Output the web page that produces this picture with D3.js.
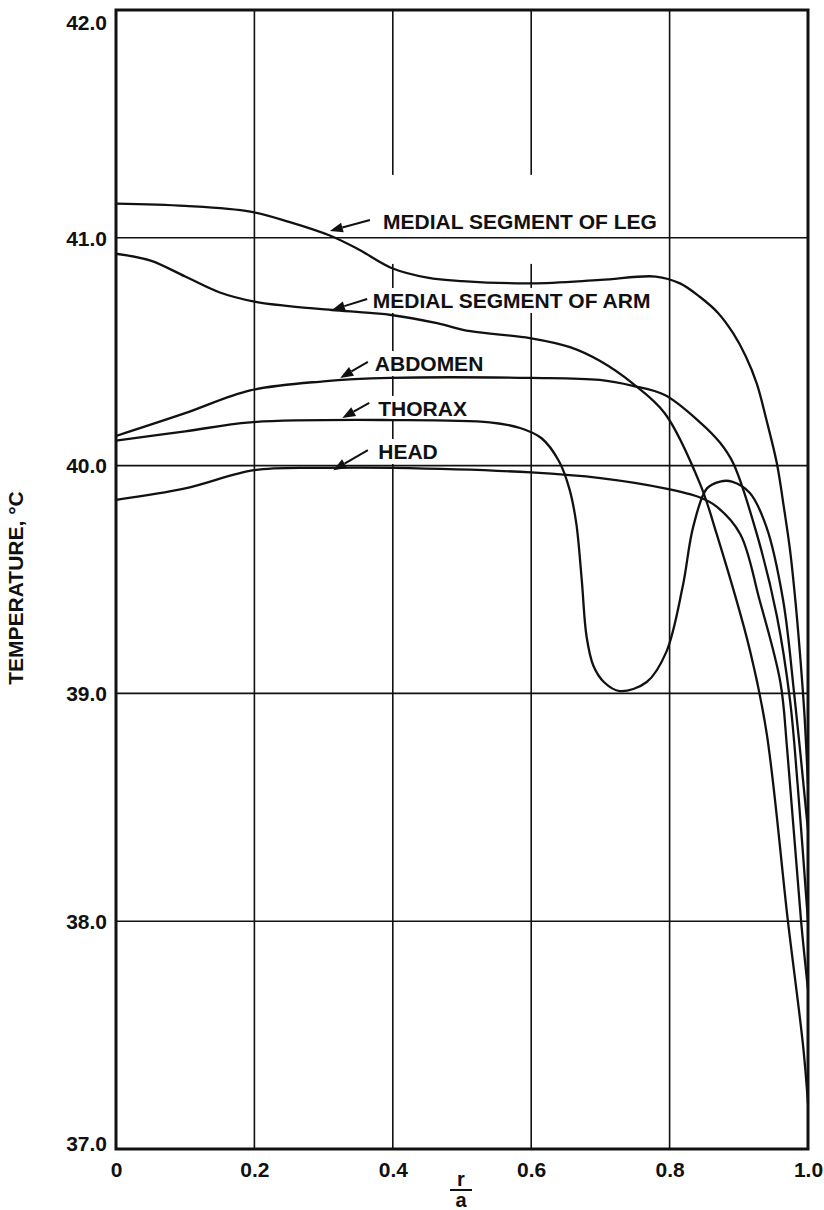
<!DOCTYPE html>
<html>
<head>
<meta charset="utf-8">
<script src="https://cdn.jsdelivr.net/npm/d3@7"></script>
<style>
  body { margin: 0; background: #fff; }
  text { font-family: "Liberation Sans", Arial, sans-serif; font-weight: bold; fill: #111; }
</style>
</head>
<body>
<div id="chart"></div>
<script>
// r/a positions and temperatures (deg C)
var xTicks = [0, 0.2, 0.4, 0.6, 0.8, 1.0];
var yTicks = [37, 38, 39, 40, 41, 42];

var legX = [0, 0.1, 0.194, 0.25, 0.309, 0.35, 0.4, 0.45, 0.5, 0.6, 0.7, 0.78, 0.815, 0.844, 0.87, 0.892, 0.91, 0.926, 0.94, 0.955, 0.965, 0.974, 0.982, 0.988, 0.995, 1.0];
var legT = [41.15, 41.14, 41.115, 41.07, 41.01, 40.95, 40.865, 40.825, 40.81, 40.8, 40.815, 40.83, 40.8, 40.74, 40.67, 40.58, 40.48, 40.36, 40.2, 40.01, 39.82, 39.63, 39.4, 39.19, 38.9, 38.6];

var armX = [0, 0.05, 0.1, 0.15, 0.2, 0.25, 0.312, 0.367, 0.4, 0.464, 0.512, 0.598, 0.656, 0.699, 0.747, 0.793, 0.844, 0.868, 0.916, 0.94, 0.971, 0.993, 1.0];
var armT = [40.93, 40.9, 40.83, 40.76, 40.72, 40.7, 40.683, 40.67, 40.66, 40.625, 40.59, 40.56, 40.52, 40.46, 40.36, 40.23, 39.92, 39.7, 39.19, 38.83, 38.0, 37.45, 37.2];

var abdX = [0, 0.1, 0.194, 0.3, 0.396, 0.6, 0.699, 0.747, 0.793, 0.844, 0.873, 0.892, 0.926, 0.955, 0.974, 0.985, 1.0];
var abdT = [40.13, 40.23, 40.33, 40.37, 40.385, 40.385, 40.376, 40.35, 40.31, 40.19, 40.1, 40.01, 39.7, 39.34, 38.97, 38.6, 38.0];

var thoX = [0, 0.1, 0.194, 0.4, 0.54, 0.584, 0.615, 0.64, 0.655, 0.665, 0.673, 0.68, 0.69, 0.705, 0.728, 0.767, 0.795, 0.819, 0.834, 0.854, 0.873, 0.89, 0.916, 0.94, 0.964, 0.98, 1.0];
var thoT = [40.11, 40.15, 40.19, 40.2, 40.19, 40.165, 40.12, 40.02, 39.9, 39.75, 39.5, 39.25, 39.12, 39.05, 39.01, 39.05, 39.18, 39.47, 39.73, 39.9, 39.93, 39.93, 39.88, 39.73, 39.41, 39.0, 38.4];

var headX = [0, 0.1, 0.2, 0.3, 0.4, 0.6, 0.7, 0.793, 0.844, 0.868, 0.902, 0.93, 0.96, 0.97, 0.99, 1.0];
var headT = [39.85, 39.9, 39.98, 39.99, 39.99, 39.97, 39.945, 39.9, 39.86, 39.82, 39.7, 39.41, 39.05, 38.75, 38.0, 37.7];

var labels = ['MEDIAL SEGMENT OF LEG', 'MEDIAL SEGMENT OF ARM', 'ABDOMEN', 'THORAX', 'HEAD'];

var series = [
  { x: legX, t: legT },
  { x: armX, t: armT },
  { x: abdX, t: abdT },
  { x: thoX, t: thoT },
  { x: headX, t: headT }
];

// annotation placement (data units): text start, arrow tail, arrow tip
var notes = [
  { tx: 0.386, ty: 41.039, ax: 0.367, ay: 41.078, bx: 0.309, by: 41.03, padT: 38, padB: 34 },
  { tx: 0.371, ty: 40.692, ax: 0.363, ay: 40.731, bx: 0.312, by: 40.683, padT: 4, padB: 4 },
  { tx: 0.374, ty: 40.415, ax: 0.364, ay: 40.455, bx: 0.324, by: 40.385, padT: 4, padB: 4 },
  { tx: 0.379, ty: 40.218, ax: 0.366, ay: 40.275, bx: 0.327, by: 40.209, padT: 4, padB: 4 },
  { tx: 0.379, ty: 40.029, ax: 0.364, ay: 40.068, bx: 0.314, by: 39.98, padT: 4, padB: 4 }
];

var W = 824, H = 1210;
var x = d3.scaleLinear().domain([0, 1]).range([116, 808]);
var y = d3.scaleLinear().domain([37, 42]).range([1149, 10]);

var svg = d3.select('#chart').append('svg')
  .attr('width', W)
  .attr('height', H);

svg.append('rect').attr('width', W).attr('height', H).attr('fill', '#fff');

// vertical grid first, label backgrounds cut it
svg.append('g').selectAll('line')
  .data(xTicks.slice(1, -1))
  .join('line')
  .attr('x1', d => x(d)).attr('x2', d => x(d))
  .attr('y1', y(37)).attr('y2', y(42))
  .attr('stroke', '#111')
  .attr('stroke-width', 1.6);

var bg = svg.append('g');

svg.append('g').selectAll('line')
  .data(yTicks.slice(1, -1))
  .join('line')
  .attr('x1', x(0)).attr('x2', x(1))
  .attr('y1', d => y(d)).attr('y2', d => y(d))
  .attr('stroke', '#111')
  .attr('stroke-width', 1.6);

// frame
svg.append('rect')
  .attr('x', x(0)).attr('y', y(42))
  .attr('width', x(1) - x(0)).attr('height', y(37) - y(42))
  .attr('fill', 'none')
  .attr('stroke', '#111')
  .attr('stroke-width', 3);

var line = d3.line()
  .x(d => x(d[0]))
  .y(d => y(d[1]))
  .curve(d3.curveCatmullRom.alpha(0.5));

svg.append('g').selectAll('path')
  .data(series)
  .join('path')
  .attr('d', s => line(s.x.map((v, i) => [v, s.t[i]])))
  .attr('fill', 'none')
  .attr('stroke', '#111')
  .attr('stroke-width', 2.3);

// labels + arrows
var ann = svg.append('g');
notes.forEach(function(n, i) {
  var t = ann.append('text')
    .attr('x', x(n.tx))
    .attr('y', y(n.ty))
    .attr('font-size', 21)
    .text(labels[i]);
  var b = t.node().getBBox();
  bg.append('rect')
    .attr('x', b.x - 3)
    .attr('y', b.y + 3 - n.padT)
    .attr('width', b.width + 6)
    .attr('height', b.height - 6 + n.padT + n.padB)
    .attr('fill', '#fff');

  var x0 = x(n.ax), y0 = y(n.ay), x1 = x(n.bx), y1 = y(n.by);
  var ang = Math.atan2(y1 - y0, x1 - x0);
  var L = 13, hw = 5;
  var bxp = x1 - L * Math.cos(ang), byp = y1 - L * Math.sin(ang);
  ann.append('line')
    .attr('x1', x0).attr('y1', y0)
    .attr('x2', bxp).attr('y2', byp)
    .attr('stroke', '#111')
    .attr('stroke-width', 2);
  ann.append('path')
    .attr('d', 'M' + x1 + ',' + y1 +
      'L' + (bxp + hw * Math.sin(ang)) + ',' + (byp - hw * Math.cos(ang)) +
      'L' + (bxp - hw * Math.sin(ang)) + ',' + (byp + hw * Math.cos(ang)) + 'Z')
    .attr('fill', '#111');
});

// axes (labels only)
var yAxis = svg.append('g')
  .attr('transform', 'translate(' + x(0) + ',0)')
  .call(d3.axisLeft(y).tickValues(yTicks).tickSize(0).tickPadding(9).tickFormat(d3.format('.1f')));
var xAxis = svg.append('g')
  .attr('transform', 'translate(0,' + y(37) + ')')
  .call(d3.axisBottom(x).tickValues(xTicks).tickSize(0).tickPadding(13)
    .tickFormat(d => d === 0 ? '0' : d3.format('.1f')(d)));
[yAxis, xAxis].forEach(function(a) {
  a.select('.domain').remove();
  a.selectAll('text')
    .attr('font-size', 21)
    .attr('font-family', '"Liberation Sans", Arial, sans-serif')
    .attr('font-weight', 'bold')
    .attr('fill', '#111');
});
yAxis.selectAll('text')
  .attr('dy', d => d === 42 ? '0.95em' : d === 37 ? '0.05em' : '0.35em');

// axis titles
svg.append('text')
  .attr('transform', 'translate(23,588) rotate(-90)')
  .attr('text-anchor', 'middle')
  .attr('font-size', 21)
  .text('TEMPERATURE, \u00B0C');

svg.append('text')
  .attr('x', 461).attr('y', 1186)
  .attr('text-anchor', 'middle')
  .attr('font-size', 20)
  .text('r');
svg.append('line')
  .attr('x1', 450).attr('x2', 472)
  .attr('y1', 1190).attr('y2', 1190)
  .attr('stroke', '#111')
  .attr('stroke-width', 2);
svg.append('text')
  .attr('x', 461).attr('y', 1207)
  .attr('text-anchor', 'middle')
  .attr('font-size', 20)
  .text('a');
</script>
</body>
</html>
